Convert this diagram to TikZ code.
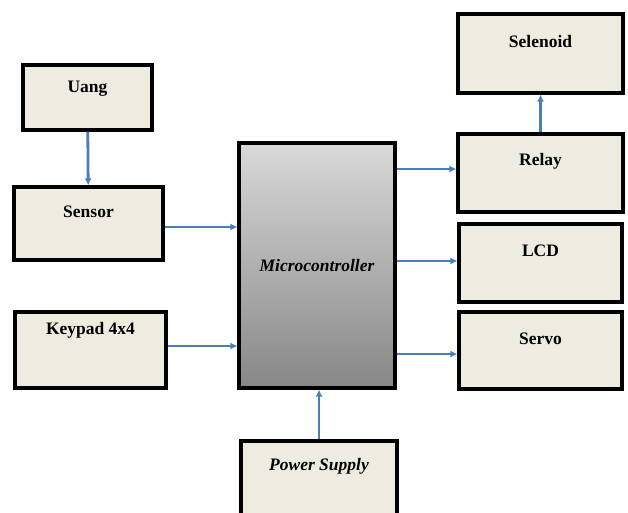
\documentclass[tikz,border=0pt]{standalone}
\usepackage{fontspec}
\setmainfont{Liberation Serif}
\usetikzlibrary{arrows.meta,positioning,calc}
\definecolor{blkfill}{HTML}{EEEBE1}
\definecolor{arrblue}{HTML}{4A7EBB}
\tikzset{
  blk/.style={draw, line width=3.2pt, fill=blkfill, inner sep=0pt},
  blktxt/.style={font=\fontsize{17.5}{20}\selectfont\bfseries, inner sep=1pt},
  mcu/.style={draw, line width=3.2pt, top color=black!15, bottom color=black!47, inner sep=0pt},
  blkarrow/.style={-{Latex[length=7pt,width=7pt]}, line width=2.8pt, arrblue},
}
\begin{document}
\begin{tikzpicture}[x=1pt, y=-1pt]
  \useasboundingbox (0,0) rectangle (628,512);
  \clip (0,0) rectangle (628,512);
  \fill[white] (0,0) rectangle (628,512);

  % left column
  \node[blk, minimum width=129pt, minimum height=65pt] (uang) at (87.5,97.5) {};
  \node[blk, minimum width=149pt, minimum height=73pt] (sensor) at (88.5,223.5) {};
  \node[blk, minimum width=151pt, minimum height=76pt] (keypad) at (90.5,350) {};
  \node[blktxt] (uangtxt) at ($(uang.north)+(0,25)$) {Uang};
  \node[blktxt] (sensortxt) at ($(sensor.north)+(0,26)$) {Sensor};
  \node[blktxt] (keypadtxt) at ($(keypad.north)+(0,20)$) {Keypad 4x4};

  % middle
  \node[mcu, minimum width=156pt, minimum height=245pt, font=\fontsize{17.5}{20}\selectfont\bfseries\itshape] (micro) at (317,265.5) {Microcontroller};
  \node[blk, minimum width=156pt, minimum height=88pt] (power) at (319,485) {};
  \node[blktxt, font=\fontsize{17.5}{20}\selectfont\bfseries\itshape] (powertxt) at ($(power.north)+(0,27)$) {Power Supply};

  % right column
  \node[blk, minimum width=165pt, minimum height=79pt] (selenoid) at (540.5,53.5) {};
  \node[blk, minimum width=165pt, minimum height=78pt] (relay) at (540.5,173) {};
  \node[blk, minimum width=163pt, minimum height=78pt] (lcd) at (540.5,263) {};
  \node[blk, minimum width=163pt, minimum height=77pt] (servo) at (540.5,350.5) {};
  \node[blktxt] (selenoidtxt) at ($(selenoid.north)+(0,29)$) {Selenoid};
  \node[blktxt] (relaytxt) at ($(relay.north)+(0,29)$) {Relay};
  \node[blktxt] (lcdtxt) at ($(lcd.north)+(0,28)$) {LCD};
  \node[blktxt] (servotxt) at ($(servo.north)+(0,28)$) {Servo};

  % connectors
  \draw[blkarrow] (uang) -- (sensor);
  \draw[blkarrow] ([yshift=-3.5pt]sensor.east) -- ([yshift=-3.5pt]sensor.east -| micro.west);
  \draw[blkarrow] ([yshift=4pt]keypad.east) -- ([yshift=4pt]keypad.east -| micro.west);
  \draw[blkarrow] ([yshift=4pt]relay.west -| micro.east) -- ([yshift=4pt]relay.west);
  \draw[blkarrow] ([yshift=2pt]lcd.west -| micro.east) -- ([yshift=2pt]lcd.west);
  \draw[blkarrow] ([yshift=-3.5pt]servo.west -| micro.east) -- ([yshift=-3.5pt]servo.west);
  \draw[blkarrow] (relay) -- (selenoid);
  \draw[blkarrow] (power.north) -- (power.north |- micro.south);
\end{tikzpicture}
\end{document}
